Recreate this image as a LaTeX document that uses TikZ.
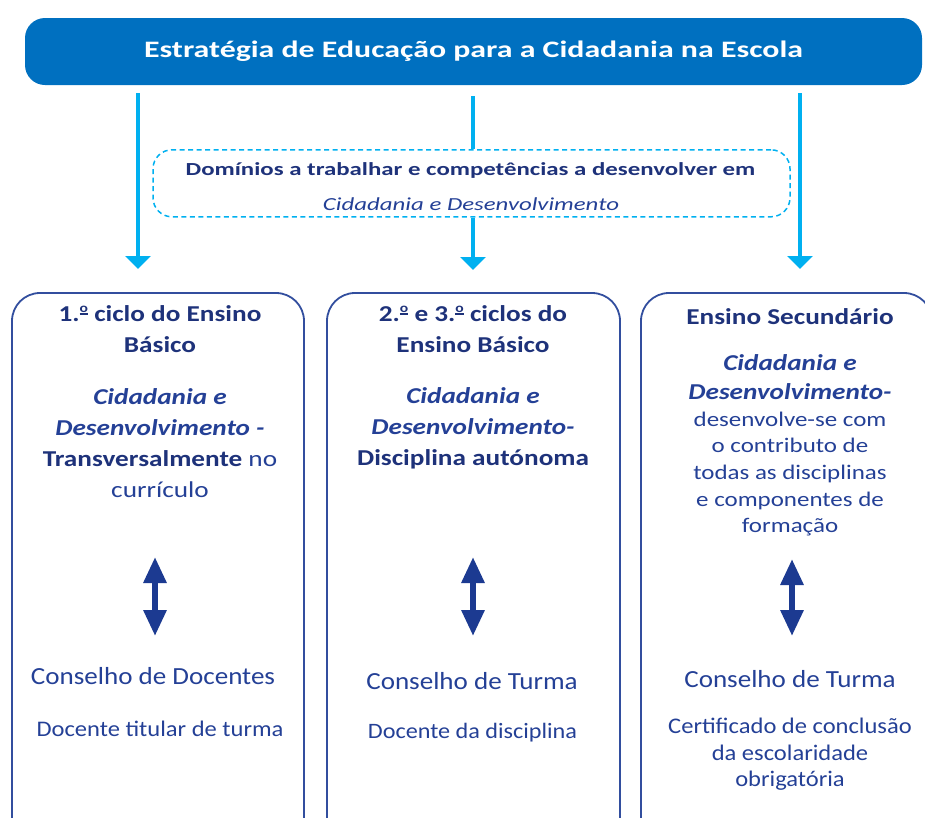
\documentclass[tikz,border=0pt]{standalone}
\usepackage{fontspec}
\setmainfont{Carlito}
\newfontfamily\ftop[FakeStretch=1.35]{Carlito}
\newfontfamily\fmid[FakeStretch=1.2]{Carlito}
\newfontfamily\fbot[FakeStretch=1.1]{Carlito}
\usetikzlibrary{arrows.meta}
\definecolor{titleblue}{RGB}{0,112,192}
\definecolor{cyanline}{RGB}{0,176,240}
\definecolor{navyd}{RGB}{30,50,122}
\definecolor{navyr}{RGB}{36,64,150}
\definecolor{boxline}{RGB}{50,78,158}
\definecolor{darrow}{RGB}{28,58,145}
\newcommand\ordo{\raisebox{0.42em}{\vtop{\hbox{\fontsize{13}{13}\selectfont o}\kern0.8pt\hrule height 1.4pt}}}
\begin{document}
\begin{tikzpicture}[x=1pt,y=-1pt,
 titlebox/.style={fill=titleblue, rounded corners=20pt, minimum width=897pt, minimum height=67pt, inner sep=0pt, text=white, font=\ftop\bfseries\fontsize{23.6}{28}\selectfont},
 dashbox/.style={draw=cyanline, dash pattern=on 5pt off 3.5pt, line width=1.5pt, rounded corners=19pt, minimum width=637pt, minimum height=67pt, inner sep=0pt},
 levelbox/.style={draw=boxline, line width=1.8pt, rounded corners=28pt, inner sep=0pt},
 flow/.style={draw=cyanline, line width=4pt, -{Triangle[width=25pt,length=13pt]}},
 plainflow/.style={draw=cyanline, line width=4pt},
 dbl/.style={draw=darrow, line width=6pt, {Triangle[width=22pt,length=26pt]}-{Triangle[width=22pt,length=26pt]}},
 txt/.style={align=center, inner sep=0pt},
 hdr/.style={txt, text=navyd, font=\fmid\bfseries\fontsize{22.7}{31}\selectfont},
 bot/.style={txt, text=navyr, font=\fbot\fontsize{24.6}{30}\selectfont},
 botsmall/.style={txt, text=navyr, font=\fbot\fontsize{22.3}{26.5}\selectfont},
]
\useasboundingbox (0,0) rectangle (925,817);

% title
\node[titlebox] (T) at (473.5,51.5) {Estratégia de Educação para a Cidadania na Escola};

% dashed box
\node[dashbox] (D) at (471.5,183.3) {};
\node[txt, text=navyd, font=\ftop\bfseries\fontsize{18.4}{22}\selectfont] (D1) at (470.5,170) {Domínios a trabalhar e competências a desenvolver em};
\node[txt, text=navyr, font=\ftop\itshape\fontsize{18.4}{22}\selectfont] (D2) at (471,204) {Cidadania e Desenvolvimento};

% level boxes
\begin{scope}
\clip (0,0) rectangle (925,817);
\node[levelbox, minimum width=292pt, minimum height=560pt] (B1) at (158,573) {};
\node[levelbox, minimum width=293pt, minimum height=560pt] (B2) at (473.5,573) {};
\node[levelbox, minimum width=291pt, minimum height=560pt] (B3) at (786.5,573) {};
\end{scope}

% cyan arrows
\coordinate (s1) at (138,93);  \coordinate (e1) at (138,269);
\coordinate (s2) at (473,96);  \coordinate (e2) at (473,270);
\coordinate (s3) at (800,93);  \coordinate (e3) at (800,269);
\draw[flow] (s1) -- (e1);
\draw[plainflow] (s2) -- (s2 |- D.north);
\draw[flow] (s2 |- D.south) -- (e2);
\draw[flow] (s3) -- (e3);

% box 1
\node[hdr] (h1) at (160,329.5) {1.\ordo{} ciclo do Ensino\\Básico};
\node[hdr] (c1) at (160,443.5) {{\itshape\color{navyr}Cidadania e}\\{\itshape\color{navyr}Desenvolvimento -}\\Transversalmente {\mdseries\color{navyr}no}\\{\mdseries\color{navyr}currículo}};
% box 2
\node[hdr] (h2) at (473,329.5) {2.\ordo{} e 3.\ordo{} ciclos do\\Ensino Básico};
\node[hdr] (c2) at (473,428) {{\itshape\color{navyr}Cidadania e}\\{\itshape\color{navyr}Desenvolvimento-}\\Disciplina autónoma};
% box 3
\node[hdr] (h3) at (790,317) {Ensino Secundário};
\node[hdr, font=\fmid\bfseries\fontsize{22.7}{26.6}\selectfont] (c3) at (790,445.5) {{\itshape\color{navyr}Cidadania e}\\[2.4pt]{\itshape\color{navyr}Desenvolvimento-}\\
{\mdseries\color{navyr}\fontsize{20.8}{26.6}\selectfont desenvolve-se com}\\
{\mdseries\color{navyr}\fontsize{20.8}{26.6}\selectfont o contributo de}\\
{\mdseries\color{navyr}\fontsize{20.8}{26.6}\selectfont todas as disciplinas}\\
{\mdseries\color{navyr}\fontsize{20.8}{26.6}\selectfont e componentes de}\\
{\mdseries\color{navyr}\fontsize{20.8}{26.6}\selectfont formação}};

% double arrows
\coordinate (p1) at (155,557); \coordinate (q1) at (155,636);
\coordinate (p2) at (473,557); \coordinate (q2) at (473,636);
\coordinate (p3) at (792,559); \coordinate (q3) at (792,636);
\draw[dbl] (p1) -- (q1);
\draw[dbl] (p2) -- (q2);
\draw[dbl] (p3) -- (q3);

% bottom texts
\node[bot] (k1) at (153,676) {Conselho de Docentes};
\node[botsmall] (m1) at (160,729) {Docente titular de turma};
\node[bot] (k2) at (472,681) {Conselho de Turma};
\node[botsmall, font=\fbot\fontsize{22}{26.5}\selectfont] (m2) at (472.5,733) {Docente da disciplina};
\node[bot] (k3) at (790,679) {Conselho de Turma};
\node[botsmall] (m3) at (790,754.5) {Certificado de conclusão\\da escolaridade\\obrigatória};
\end{tikzpicture}
\end{document}
